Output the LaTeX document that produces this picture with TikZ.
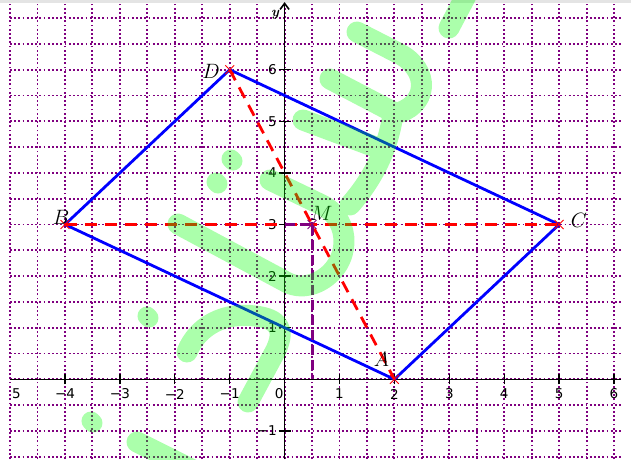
\documentclass[tikz,border=0pt]{standalone}
\usepackage{fontspec}
\newfontfamily\tickfont{DejaVu Sans}
\usetikzlibrary{arrows.meta,shapes.misc}
\definecolor{gridpurple}{RGB}{128,0,128}
\definecolor{hlgreen}{RGB}{0,255,0}
\definecolor{topgray}{RGB}{228,228,228}
\begin{document}
\begin{tikzpicture}[x=54.9pt,y=51.6pt,
  gridline/.style={gridpurple, line width=1.9pt, dash pattern=on 1.8pt off 2.4pt},
  axisline/.style={black, line width=1.6pt},
  tickmark/.style={black, line width=1.3pt},
  ticklabel/.style={font=\tickfont\fontsize{13.5}{14}\selectfont, text=black, inner sep=0pt},
  ptlabel/.style={font=\fontsize{20}{22}\selectfont, inner sep=0pt},
  side/.style={blue, line width=2.8pt, line join=round},
  reddash/.style={red, line width=2.8pt, dash pattern=on 12pt off 8pt},
  projdash/.style={gridpurple, line width=3pt, dash pattern=on 10pt off 5pt},
  ptmark/.style={cross out, draw=red, line width=0.9pt, minimum size=8pt, inner sep=0pt},
  hl/.style={hlgreen, line width=21pt, line cap=round, line join=round}
]
\useasboundingbox (-284.6pt,-79.7pt) rectangle (346.4pt,379.3pt);
\fill[topgray] (-284.6pt,376.3pt) rectangle (346.4pt,379.3pt);

% grid
\foreach \gx in {-5,-4.5,...,6} \draw[gridline] (\gx,-1.545) -- (\gx,7.293);
\foreach \gy in {-1.5,-1,...,7} \draw[gridline] (-5,\gy) -- (6.13,\gy);

% axes
\coordinate (xl) at (-5,0);
\coordinate (xr) at (6.13,0);
\coordinate (ybot) at (0,-1.545);
\coordinate (ytop) at (0,7.31);
\draw[axisline] (xl) -- (xr);
\draw[axisline, -{Straight Barb[length=6pt,width=9pt]}] (ybot) -- (ytop);
\foreach \t in {-4,...,6} \draw[tickmark] (\t,-0.097) -- (\t,0.097);
\foreach \t in {-1,1,2,3,4,5,6} \draw[tickmark] (-0.11,\t) -- (0.11,\t);

% tick labels
\node[ticklabel] (xlm5) at (-4.883,-0.285) {5};
\node[ticklabel] (xlm4) at (-4,-0.285) {−4};
\node[ticklabel] (xlm3) at (-3,-0.285) {−3};
\node[ticklabel] (xlm2) at (-2,-0.285) {−2};
\node[ticklabel] (xlm1) at (-1,-0.285) {−1};
\node[ticklabel] (xl0) at (-0.1,-0.285) {0};
\foreach \t in {1,...,6} \node[ticklabel] (xlp\t) at (\t,-0.285) {\t};
\foreach \t in {1,...,6} \node[ticklabel, anchor=east] (ylp\t) at (-0.138,\t) {\t};
\node[ticklabel, anchor=east] (ylm1) at (-0.138,-1) {−1};
\node[font=\fontsize{14}{14}\selectfont\bfseries\itshape, inner sep=0pt] (ylab) at (-0.175,7.06) {y};

% points
\coordinate (A) at (2,0);
\coordinate (B) at (-4,3);
\coordinate (C) at (5,3);
\coordinate (D) at (-1,6);
\coordinate (M) at (0.5,3);
\coordinate (Mx) at (0.5,0);
\coordinate (My) at (0,3);

\draw[side] (A) -- (C) -- (D) -- (B) -- cycle;
\draw[reddash] (B) -- (C);
\draw[reddash] (D) -- (A);
\draw[projdash] (My) -- (M);
\draw[projdash] (M) -- (Mx);

\node[ptmark] (pA) at (A) {};
\node[ptmark] (pB) at (B) {};
\node[ptmark] (pC) at (C) {};
\node[ptmark] (pD) at (D) {};
\node[ptmark, draw=gridpurple] (pM) at (M) {};

\node[ptlabel] (lA) at (1.765,0.393) {$A$};
\node[ptlabel] (lB) at (-4.073,3.145) {$B$};
\node[ptlabel] (lC) at (5.362,3.077) {$C$};
\node[ptlabel] (lD) at (-1.341,5.965) {$D$};
\node[ptlabel] (lM) at (0.672,3.223) {$M$};

% green handwriting overlay (pixel coordinates)
\begin{scope}[shift={(-284.6pt,379.3pt)}, x=1pt, y=-1pt, transparency group, opacity=0.33]
  \draw[hl] (469,-10) -- (449,28);
  \draw[hl] (357,32) -- (398,53) .. controls (432,70) and (428,108) .. (393,114);
  \draw[hl] (330,79) -- (393,112);
  \draw[hl] (393,114) .. controls (388,150) and (372,180) .. (350,205);
  \draw[hl] (303,120) -- (378,148);
  \draw[hl] (270,180) -- (322,205) .. controls (352,220) and (352,265) .. (318,282) .. controls (305,288) and (295,286) .. (288,283) -- (178,224);
  \draw[hl] (187,352) .. controls (198,325) and (225,312) .. (255,316) .. controls (280,319) and (285,330) .. (276,350) -- (248,402);
  \draw[hl] (137,442) -- (195,471);
  \draw[hl, line width=19pt] (147,316) -- (149,318);
  \draw[hl, line width=19pt] (91,421) -- (93,423);
  \draw[hl, line width=19pt] (231,159) -- (233,161);
  \draw[hl, line width=19pt] (216,182) -- (218,184);
\end{scope}
\end{tikzpicture}
\end{document}
